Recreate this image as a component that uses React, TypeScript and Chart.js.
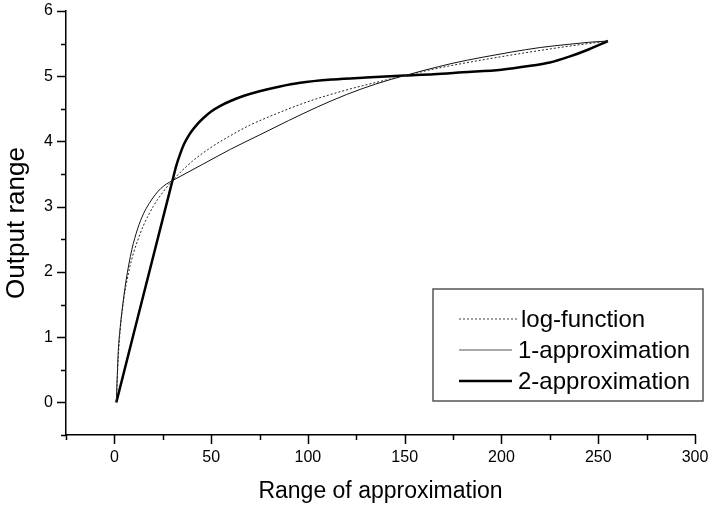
import React, { useEffect, useRef } from 'react';
import { Chart, registerables } from 'chart.js';

Chart.register(...registerables);

// ---- data ----
const logX = [1, 2, 3, 4, 5, 6, 8, 10, 12, 15, 20, 25, 30, 40, 50, 60, 70, 80, 100, 120, 140, 150, 170, 200, 230, 255];
const logY = [0, 0.69, 1.1, 1.39, 1.61, 1.79, 2.08, 2.3, 2.48, 2.71, 3.0, 3.22, 3.4, 3.69, 3.91, 4.09, 4.25, 4.38, 4.61, 4.79, 4.94, 5.01, 5.14, 5.3, 5.44, 5.54];

const approx1X = [1, 2, 3, 4, 6, 9, 12, 15, 18, 21, 24, 27, 30, 45, 60, 75, 90, 105, 120, 135, 150, 160, 175, 190, 205, 220, 235, 245, 255];
const approx1Y = [0, 0.78, 1.15, 1.42, 1.86, 2.34, 2.66, 2.89, 3.05, 3.18, 3.28, 3.35, 3.4, 3.64, 3.88, 4.1, 4.32, 4.53, 4.72, 4.88, 5.01, 5.09, 5.2, 5.29, 5.37, 5.44, 5.49, 5.52, 5.54];

const approx2X = [1, 30, 32, 34, 36, 38, 40, 43, 46, 50, 55, 60, 67, 75, 85, 96, 113, 130, 150, 165, 180, 200, 215, 225, 235, 245, 255];
const approx2Y = [0, 3.4, 3.63, 3.81, 3.96, 4.07, 4.16, 4.27, 4.36, 4.46, 4.55, 4.62, 4.7, 4.77, 4.84, 4.9, 4.95, 4.98, 5.01, 5.03, 5.06, 5.1, 5.16, 5.21, 5.3, 5.41, 5.54];

const seriesNames = ['log-function', '1-approximation', '2-approximation'];
const xTickLabels = [0, 50, 100, 150, 200, 250, 300];
const yTickLabels = [0, 1, 2, 3, 4, 5, 6];
const xTitle = 'Range of approximation';
const yTitle = 'Output range';

const FONT = "'Liberation Sans', Arial, Helvetica, sans-serif";

const toPoints = (xs: number[], ys: number[]) => xs.map((x, i) => ({ x, y: ys[i] }));

const styles = [
  { color: '#222', width: 1, dash: [2, 2], legendColor: '#444' },
  { color: '#111', width: 1, dash: [] as number[], legendColor: '#555' },
  { color: '#000', width: 2.5, dash: [] as number[], legendColor: '#000' },
];

const decorPlugin = {
  id: 'decor',
  afterDraw(chart: any) {
    const ctx = chart.ctx as CanvasRenderingContext2D;
    const xs = chart.scales.x;
    const ys = chart.scales.y;
    const area = chart.chartArea;
    ctx.save();
    ctx.strokeStyle = '#000';
    ctx.lineWidth = 1.5;
    ctx.beginPath();
    for (const t of xs.ticks) {
      const px = Math.round(xs.getPixelForValue(t.value)) + 0.5;
      const len = xTickLabels.includes(t.value) ? 9 : 5;
      ctx.moveTo(px, area.bottom);
      ctx.lineTo(px, area.bottom + len);
    }
    for (const t of ys.ticks) {
      const py = Math.round(ys.getPixelForValue(t.value)) + 0.5;
      const len = yTickLabels.includes(t.value) ? 9 : 5;
      ctx.moveTo(area.left, py);
      ctx.lineTo(area.left - len, py);
    }
    ctx.stroke();

    // legend box
    const bx = 433, by = 289, bw = 270, bh = 112;
    ctx.fillStyle = '#fff';
    ctx.fillRect(bx, by, bw, bh);
    ctx.strokeStyle = '#555';
    ctx.lineWidth = 1.5;
    ctx.strokeRect(bx, by, bw, bh);
    const rowsY = [319, 350, 381];
    ctx.font = `24px ${FONT}`;
    ctx.textBaseline = 'middle';
    ctx.textAlign = 'left';
    seriesNames.forEach((name, i) => {
      const s = styles[i];
      ctx.beginPath();
      ctx.strokeStyle = s.legendColor;
      ctx.lineWidth = s.width;
      ctx.setLineDash(s.dash);
      ctx.moveTo(459, rowsY[i]);
      ctx.lineTo(i === 0 ? 517 : 512, rowsY[i]);
      ctx.stroke();
      ctx.setLineDash([]);
      ctx.fillStyle = '#000';
      ctx.fillText(name, i === 0 ? 521 : 518, rowsY[i] + 1);
    });
    ctx.restore();
  },
};

export default function App() {
  const ref = useRef<HTMLCanvasElement | null>(null);
  useEffect(() => {
    if (!ref.current) return;
    const datasets = [
      toPoints(logX, logY),
      toPoints(approx1X, approx1Y),
      toPoints(approx2X, approx2Y),
    ].map((data, i) => ({
      label: seriesNames[i],
      data,
      borderColor: styles[i].color,
      borderWidth: styles[i].width,
      borderDash: styles[i].dash,
      pointRadius: 0,
      fill: false,
      cubicInterpolationMode: 'monotone' as const,
    }));
    const chart = new Chart(ref.current, {
      type: 'line',
      data: { datasets },
      options: {
        animation: false,
        responsive: false,
        devicePixelRatio: 1,
        layout: { padding: { top: 11, right: 15, left: 0, bottom: 0 } },
        plugins: { legend: { display: false }, tooltip: { enabled: false } },
        scales: {
          x: {
            type: 'linear',
            min: -25,
            max: 300,
            afterFit: (s: any) => { s.height = 72; s.paddingLeft = 0; s.paddingRight = 0; },
            grid: { display: false, drawTicks: false },
            border: { display: true, color: '#000', width: 1.5 },
            ticks: {
              stepSize: 25,
              autoSkip: false,
              maxRotation: 0,
              padding: 13,
              color: '#000',
              font: { family: FONT, size: 16 },
              callback: (v: any) => (xTickLabels.includes(Number(v)) ? String(v) : ''),
            },
            title: {
              display: true,
              text: xTitle,
              color: '#000',
              font: { family: FONT, size: 23 },
              padding: { top: 0, bottom: 2 },
            },
          },
          y: {
            type: 'linear',
            min: -0.5,
            max: 6,
            afterFit: (s: any) => { s.width = 66; s.paddingTop = 0; s.paddingBottom = 0; },
            grid: { display: false, drawTicks: false },
            border: { display: true, color: '#000', width: 1.5 },
            ticks: {
              stepSize: 0.5,
              autoSkip: false,
              padding: 13,
              color: '#000',
              font: { family: FONT, size: 16 },
              callback: (v: any) => (yTickLabels.includes(Number(v)) ? String(v) : ''),
            },
            title: {
              display: true,
              text: yTitle,
              color: '#000',
              font: { family: FONT, size: 26 },
              padding: { top: 1, bottom: 0 },
            },
          },
        },
      },
      plugins: [decorPlugin],
    });
    return () => chart.destroy();
  }, []);
  return (
    <div style={{ position: 'fixed', left: 0, top: 0, width: 710, height: 507, background: '#fff' }}>
      <canvas ref={ref} width={710} height={507} style={{ display: 'block' }} />
    </div>
  );
}
